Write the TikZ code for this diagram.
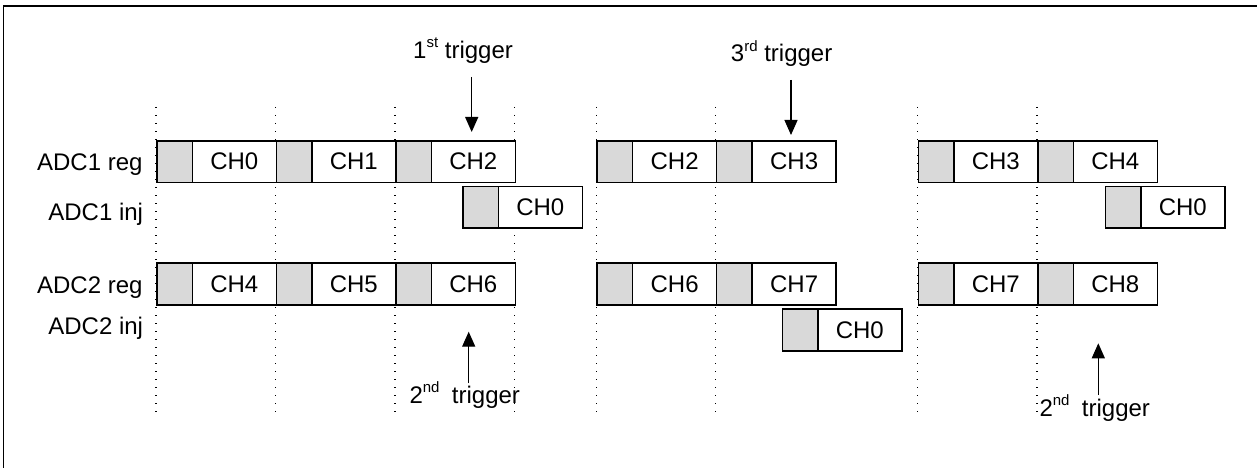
\documentclass[tikz,border=0pt]{standalone}
\usepackage{fontspec}
\setmainfont{Liberation Sans}
\usetikzlibrary{arrows.meta}
\newcommand\mysup[1]{\raisebox{10.5pt}{\fontsize{15}{15}\selectfont #1}}
\tikzset{
  grayc/.style={draw, line width=1.6pt, fill=gray!30, minimum width=35.5pt, minimum height=41.7pt, inner sep=0pt, anchor=north west},
  chbox/.style={draw, line width=1.6pt, fill=white, minimum width=84pt, minimum height=41.7pt, inner sep=0pt, anchor=north west, font=\fontsize{24}{28}\selectfont},
  gridline/.style={line width=1.3pt, dash pattern=on 1.3pt off 6.7pt},
  lbl/.style={inner sep=0pt, font=\fontsize{24}{28}\selectfont},
  trig/.style={line width=1.3pt, -{Triangle[length=15pt,width=13pt]}},
  frameline/.style={line width=1.8pt}
}
\newcommand\seg[4]{%
  \node[grayc] (#1g) at (#2,#3) {};
  \node[chbox] (#1) at (#2+35.5,#3) {#4};
}
\begin{document}
\begin{tikzpicture}[x=1pt,y=-1pt]
\useasboundingbox (0,0) rectangle (1257,468);
% frame (only top and left edges visible)
\coordinate (fbl) at (3.5,468);
\coordinate (ftl) at (3.5,6);
\coordinate (ftr) at (1257,6);
\draw[frameline] (fbl) -- (ftl) -- (ftr);
% dotted guides
\foreach \gx [count=\i] in {156,275.5,395,514.5,596.3,715.8,917.5,1037}{
  \coordinate (gt\i) at (\gx,107);
  \coordinate (gb\i) at (\gx,412);
  \draw[gridline] (gt\i) -- (gb\i);
}
% row labels
\node[lbl, anchor=base east] (r1) at (142.7,170.7) {ADC1 reg};
\node[lbl, anchor=base east] (r2) at (143.3,220.7) {ADC1 inj};
\node[lbl, anchor=base east] (r3) at (142.7,293.3) {ADC2 reg};
\node[lbl, anchor=base east] (r4) at (143.3,334) {ADC2 inj};
% group 1
\seg{a1}{156}{140}{CH0}
\seg{a2}{275.5}{140}{CH1}
\seg{a3}{395}{140}{CH2}
\seg{b1}{156}{262.3}{CH4}
\seg{b2}{275.5}{262.3}{CH5}
\seg{b3}{395}{262.3}{CH6}
\seg{i1}{462}{185.7}{CH0}
% group 2
\seg{a4}{596.3}{140}{CH2}
\seg{a5}{715.8}{140}{CH3}
\seg{b4}{596.3}{262.3}{CH6}
\seg{b5}{715.8}{262.3}{CH7}
\seg{i2}{781.5}{308.3}{CH0}
% group 3
\seg{a6}{917.5}{140}{CH3}
\seg{a7}{1037}{140}{CH4}
\seg{b6}{917.5}{262.3}{CH7}
\seg{b7}{1037}{262.3}{CH8}
\seg{i3}{1104.5}{185.7}{CH0}
% triggers
\node[lbl, anchor=base west] (tr1) at (413,58.3) {1\mysup{st} trigger};
\coordinate (t1s) at (471.7,77);
\coordinate (t1e) at (471.7,132);
\draw[trig] (t1s) -- (t1e);
\node[lbl, anchor=base west] (tr3) at (730.7,61.7) {3\mysup{rd} trigger};
\coordinate (t3s) at (791,80);
\coordinate (t3e) at (791,135);
\draw[trig] (t3s) -- (t3e);
\node[lbl, anchor=base west] (tr2a) at (409.3,403.3) {2\mysup{nd}\hspace{12.4pt}trigger};
\coordinate (t2s) at (468.7,383.3);
\coordinate (t2e) at (468.7,331.7);
\draw[trig] (t2s) -- (t2e);
\node[lbl, anchor=base west] (tr2b) at (1039.3,416) {2\mysup{nd}\hspace{12.4pt}trigger};
\coordinate (t4s) at (1098.3,395);
\coordinate (t4e) at (1098.3,343.3);
\draw[trig] (t4s) -- (t4e);
\end{tikzpicture}
\end{document}
